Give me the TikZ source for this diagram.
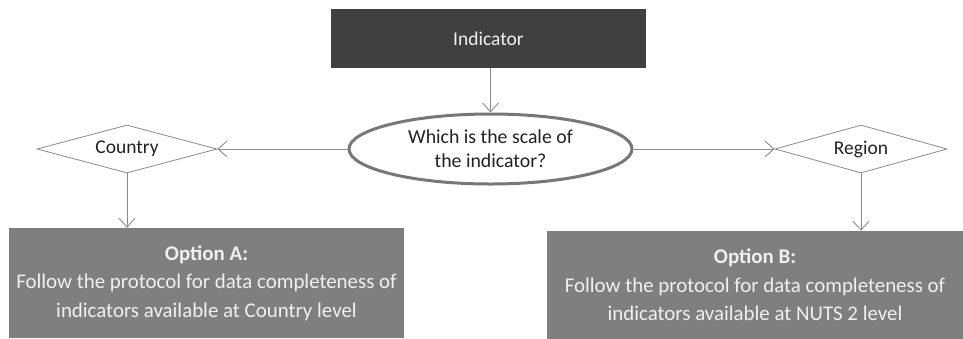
\documentclass[tikz,border=0pt]{standalone}
\usepackage{fontspec}
\setmainfont{Carlito}
\usetikzlibrary{shapes.geometric,arrows.meta}
\definecolor{darkbox}{HTML}{404040}
\definecolor{midbox}{HTML}{7F7F7F}
\definecolor{linegray}{HTML}{8A8A8A}
\definecolor{ringgray}{HTML}{777777}
\definecolor{txtdark}{HTML}{222222}
\definecolor{txtlight}{HTML}{F0F0F0}
\tikzset{
  topbox/.style={rectangle, fill=darkbox, draw=none, minimum width=315pt, minimum height=59pt, inner sep=0pt, text=txtlight, font=\fontsize{19.5}{23}\selectfont},
  qell/.style={ellipse, draw=ringgray, line width=3pt, fill=white, minimum width=283pt, minimum height=70pt, inner sep=0pt, align=center, text=txtdark, font=\fontsize{19.8}{24}\selectfont},
  dia/.style={diamond, draw=linegray, line width=0.8pt, fill=white, aspect=3.6, inner sep=0pt, text=txtdark, font=\fontsize{19.5}{23}\selectfont},
  optbox/.style={rectangle, fill=midbox, draw=none, inner sep=0pt, align=center, text=txtlight, font=\fontsize{20.9}{28.5}\selectfont},
  conn/.style={draw=linegray, line width=0.9pt, -{Straight Barb[length=9pt,width=16pt,line width=0.9pt]}}
}
\begin{document}
\begin{tikzpicture}[x=1pt,y=-1pt]
\useasboundingbox (0,0) rectangle (963,338);
\node[topbox] (ind) at (488.5,38.5) {Indicator};
\node[qell] (q) at (490.5,149) {Which is the scale of\\the indicator?};
\node[dia, minimum width=180pt, minimum height=48pt] (c) at (127,149) {Country};
\node[dia, minimum width=172pt, minimum height=48pt] (r) at (861,149) {Region};
\node[optbox, minimum width=395pt, minimum height=110pt] (a) at (206.5,283) {\textbf{Option A:}\\Follow the protocol for data completeness of\\indicators available at Country level};
\node[optbox, minimum width=416pt, minimum height=108pt] (b) at (755,285) {\textbf{Option B:}\\Follow the protocol for data completeness of\\indicators available at NUTS 2 level};
\draw[conn] (ind.south -| q.north) -- (q.north);
\draw[conn] (q.west) -- (c.east);
\draw[conn] (q.east) -- (r.west);
\draw[conn] (c.south) -- (c.south |- a.north);
\draw[conn] (r.south) -- (r.south |- b.north);
\end{tikzpicture}
\end{document}
